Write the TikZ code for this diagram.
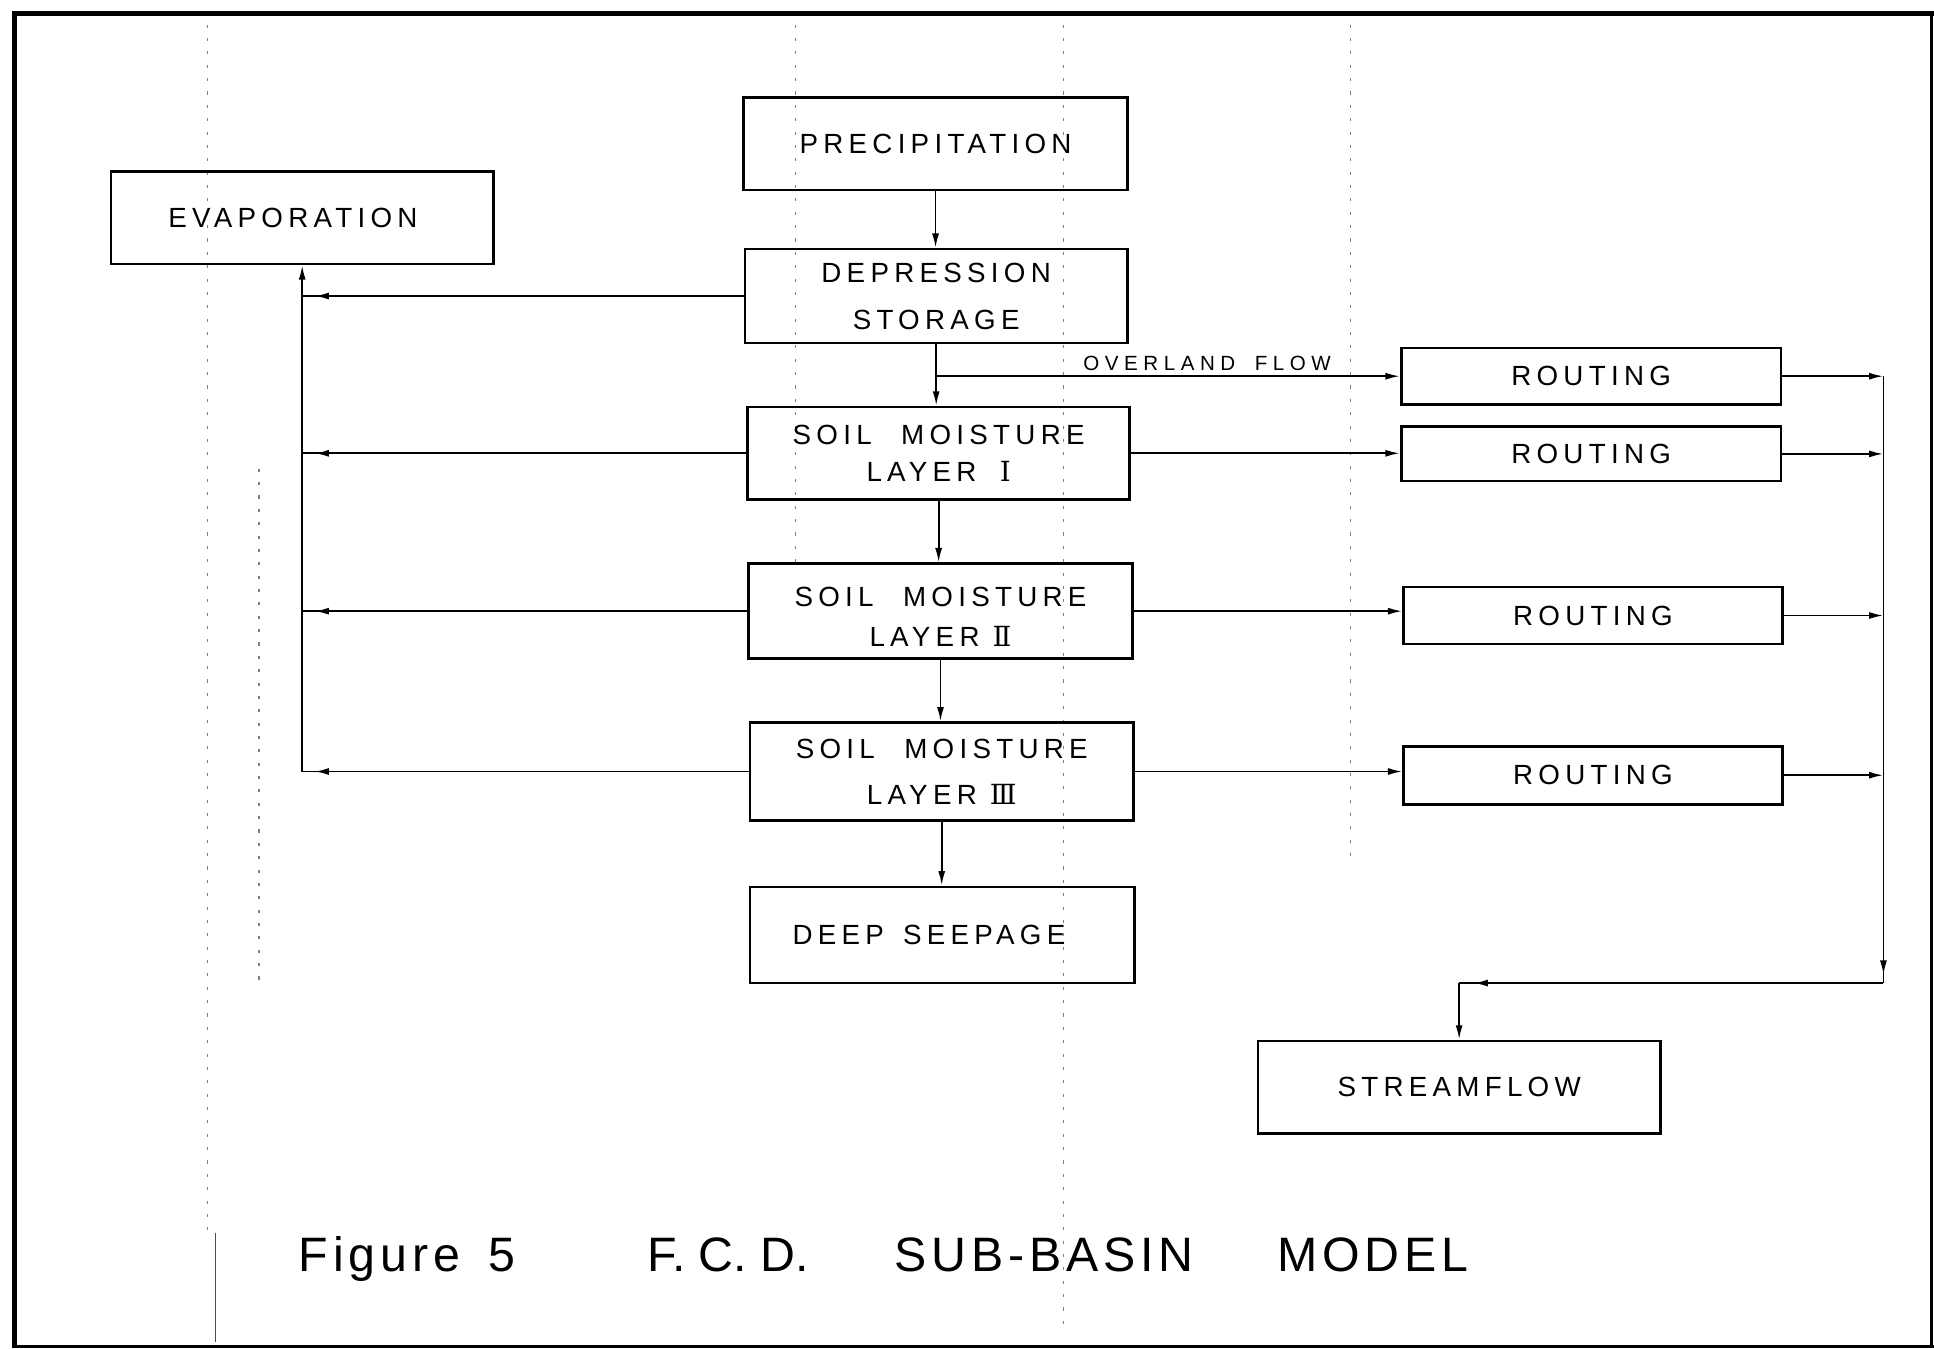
\documentclass[tikz,border=0pt]{standalone}
\usepackage{fontspec}
\setmainfont{Liberation Sans}
\newfontfamily\lblfont[LetterSpace=19]{Liberation Sans}
\newfontfamily\capfont[LetterSpace=10]{Liberation Sans}
\newfontfamily\plainfont{Liberation Sans}
\newfontfamily\ovlfont[LetterSpace=27]{Liberation Sans}
\newfontfamily\romfont{DejaVu Serif}
\usetikzlibrary{arrows.meta,decorations.markings}
\begin{document}
\begin{tikzpicture}[x=0.6pt,y=-0.6pt,
  >={Latex[length=7pt,width=3.4pt]},
  box/.style={draw,line width=1.3pt,inner sep=0pt,align=center,
    font=\lblfont\fontsize{13.5}{18}\selectfont},
  wh/.style 2 args={minimum width=#1*0.6pt,minimum height=#2*0.6pt},
  conn/.style={line width=0.9pt},
  arrnear/.style={postaction={decorate},decoration={markings,
    mark=at position -#1 with {\arrow{>}}}},
  speck/.style={line width=0.6pt,black!50,dash pattern=on 1.5pt off 5pt},
  capt/.style={anchor=base west,inner sep=0pt,font=\capfont\fontsize{23.5}{26}\selectfont}
]
% page and frame
\path[use as bounding box,fill=white] (0,0) rectangle (1568,1093);
\draw[line width=2.6pt] (12,1093) -- (12,11) -- (1568,11);
\draw[line width=1.4pt] (1566,11) -- (1566,1093);
\draw[line width=1.4pt] (12,1092) -- (1568,1092);

% faint scan marks
\draw[speck] (168,20) -- (168,1000);
\draw[line width=0.6pt,black!70] (175,1000) -- (175,1088);
\draw[speck] (645,20) -- (645,460);
\draw[speck] (862,20) -- (862,1080);
\draw[speck] (1095,20) -- (1095,700);
\draw[speck] (210,380) -- (210,800);

% boxes
\node[box,wh={311}{75}] (prec) at (758.5,116.5) {PRECIPITATION};
\node[box,wh={310}{75}] (evap) at (245,176.5) {EVAPORATION\hspace*{9pt}};
\node[box,wh={310}{76}] (dep) at (759,240) {DEPRESSION\\[4.8pt]STORAGE};
\node[box,wh={310}{75}] (sm1) at (761,367.5) {SOIL\hspace{8pt} MOISTURE\\LAYER\hspace{5pt} {\romfont Ⅰ}};
\node[box,wh={311}{77}] (sm2) at (762.5,495.5) {\rule{0pt}{15pt}SOIL\hspace{8pt} MOISTURE\\[1.8pt]LAYER {\romfont Ⅱ}};
\node[box,wh={311}{79}] (sm3) at (763.5,625.5) {SOIL\hspace{8pt} MOISTURE\\[4.2pt]LAYER {\romfont Ⅲ}};
\node[box,wh={312}{78}] (deep) at (764,758) {DEEP\hspace{3pt} SEEPAGE\hspace*{13pt}};
\node[box,wh={308}{46}] (r1) at (1290,305) {ROUTING};
\node[box,wh={308}{44}] (r2) at (1290,368) {ROUTING};
\node[box,wh={307}{46}] (r3) at (1291.5,499) {ROUTING};
\node[box,wh={307}{47}] (r4) at (1291.5,628.5) {ROUTING};
\node[box,wh={326}{75}] (sf) at (1183,881.5) {STREAMFLOW};

% vertical chain
\draw[conn,->] (prec.south) -- (prec.south |- dep.north);
\draw[conn,->] (dep.south) -- (dep.south |- sm1.north);
\draw[conn,->] (sm1.south) -- (sm1.south |- sm2.north);
\draw[conn,->] (sm2.south) -- (sm2.south |- sm3.north);
\draw[conn,->] (sm3.south) -- (sm3.south |- deep.north);

% evaporation
\coordinate (evc) at (sm3.west -| evap.south);
\draw[conn,arrnear=6pt] (dep.west) -- (dep.west -| evap.south);
\draw[conn,arrnear=6pt] (sm1.west) -- (sm1.west -| evap.south);
\draw[conn,arrnear=6pt] (sm2.west) -- (sm2.west -| evap.south);
\draw[conn,arrnear=6pt] (sm3.west) -- (evc);
\draw[conn,->] (evc) -- (evap.south);

% overland flow and routing inputs
\coordinate (ovs) at (dep.south |- r1.west);
\draw[conn,->] (ovs) -- (r1.west);
\node[anchor=base west,inner sep=0pt,font=\ovlfont\fontsize{10}{11}\selectfont] (ovl) at (878,300.5) {OVERLAND\hspace{4pt} FLOW};
\draw[conn,->] (sm1.east) -- (sm1.east -| r2.west);
\draw[conn,->] (sm2.east) -- (sm2.east -| r3.west);
\draw[conn,->] (sm3.east) -- (sm3.east -| r4.west);

% collector to streamflow
\coordinate (cb) at (1527,797);
\draw[conn,->] (r1.east) -- (r1.east -| cb);
\draw[conn,->] (r2.east) -- (r2.east -| cb);
\draw[conn,->] (r3.east) -- (r3.east -| cb);
\draw[conn,->] (r4.east) -- (r4.east -| cb);
\draw[conn,arrnear=4pt] (r1.east -| cb) -- (cb);
\coordinate (sfc) at (cb -| sf.north);
\draw[conn,arrnear=7pt] (cb) -- (sfc);
\draw[conn,->] (sfc) -- (sf.north);

% caption
\node[capt] (c1) at (242,1031) {Figure\hspace{5pt} 5};
\node[capt,font=\plainfont\fontsize{23.5}{26}\selectfont] (c2) at (525,1031) {F. C. D.};
\node[capt] (c3) at (725,1031) {SUB-BASIN};
\node[capt] (c4) at (1035,1031) {MODEL};
\end{tikzpicture}
\end{document}
